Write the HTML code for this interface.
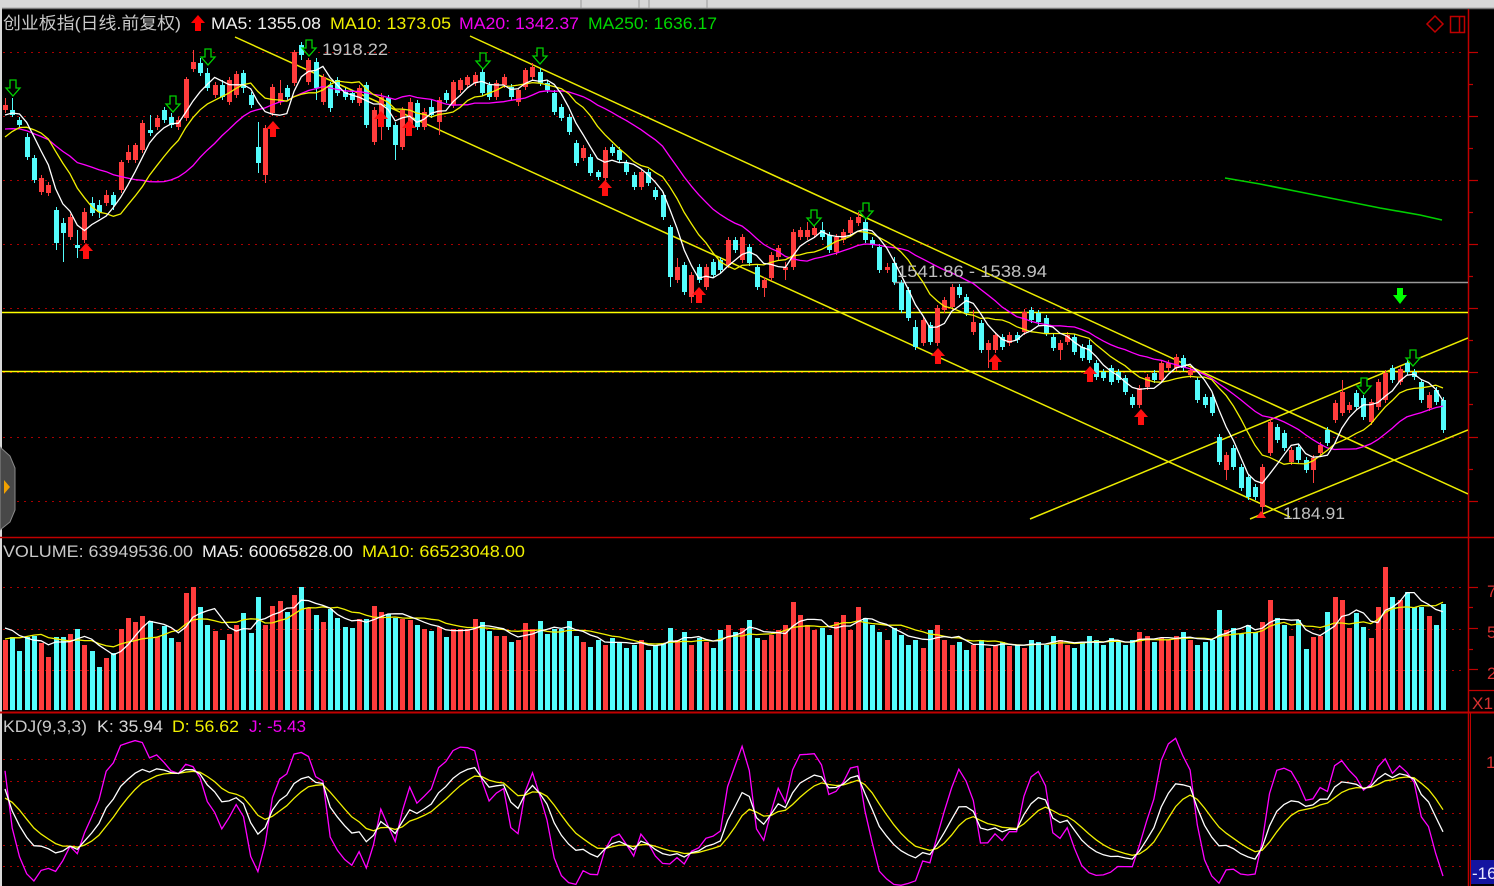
<!DOCTYPE html>
<html><head><meta charset="utf-8">
<style>
html,body{margin:0;padding:0;background:#000;width:1494px;height:886px;overflow:hidden;}
svg{display:block;}
text{font-family:"Liberation Sans","Noto Sans CJK SC",sans-serif;}
</style></head>
<body>
<svg id="svg" width="1494" height="886" viewBox="0 0 1494 886" xmlns="http://www.w3.org/2000/svg">
<defs>
<clipPath id="cp"><rect x="2" y="34" width="1466" height="503"/></clipPath>
<clipPath id="cv"><rect x="2" y="560" width="1466" height="152"/></clipPath>
<clipPath id="ck"><rect x="2" y="735" width="1466" height="151"/></clipPath>
</defs>
<rect x="0" y="0" width="1494" height="886" fill="#000"/>
<!-- top strip -->
<rect x="0" y="0" width="1494" height="8" fill="#d8d8d8"/>
<line x1="0" y1="8.5" x2="1494" y2="8.5" stroke="#7a7a7a" stroke-width="1.5"/>
<line x1="581" y1="0" x2="581" y2="8" stroke="#9a9a9a"/>
<line x1="639" y1="0" x2="639" y2="8" stroke="#9a9a9a"/>
<line x1="649" y1="0" x2="649" y2="8" stroke="#9a9a9a"/>
<line x1="707" y1="0" x2="707" y2="8" stroke="#9a9a9a"/>
<!-- left strip -->
<rect x="0" y="0" width="2" height="886" fill="#d8d8d8"/>

<!-- grid lines -->
<g stroke="#a80000" stroke-width="1" stroke-dasharray="2,5">
<line x1="3" y1="52.5" x2="1466" y2="52.5"/>
<line x1="3" y1="116.5" x2="1466" y2="116.5"/>
<line x1="3" y1="180.5" x2="1466" y2="180.5"/>
<line x1="3" y1="244.5" x2="1466" y2="244.5"/>
<line x1="3" y1="308.5" x2="1466" y2="308.5"/>
<line x1="3" y1="372.5" x2="1466" y2="372.5"/>
<line x1="3" y1="437.5" x2="1466" y2="437.5"/>
<line x1="3" y1="501.5" x2="1466" y2="501.5"/>
<line x1="3" y1="587.5" x2="1466" y2="587.5"/>
<line x1="3" y1="629.5" x2="1466" y2="629.5"/>
<line x1="3" y1="670.5" x2="1466" y2="670.5"/>
<line x1="3" y1="759.5" x2="1466" y2="759.5"/>
<line x1="3" y1="781.5" x2="1466" y2="781.5"/>
<line x1="3" y1="813.5" x2="1466" y2="813.5"/>
<line x1="3" y1="845.5" x2="1466" y2="845.5"/>
<line x1="3" y1="866.5" x2="1466" y2="866.5"/>
</g>

<!-- separators & axis -->
<line x1="0" y1="537.5" x2="1494" y2="537.5" stroke="#c00000" stroke-width="1.5"/>
<line x1="0" y1="712.5" x2="1494" y2="712.5" stroke="#c00000" stroke-width="2"/>
<line x1="1468.5" y1="9" x2="1468.5" y2="886" stroke="#c00000" stroke-width="1.5"/>
<line x1="1470.5" y1="713" x2="1470.5" y2="886" stroke="#c00000" stroke-width="1"/>
<g stroke="#c00000" stroke-width="1.2">
<line x1="1468" y1="52.5" x2="1478" y2="52.5"/>
<line x1="1468" y1="84.5" x2="1473" y2="84.5"/>
<line x1="1468" y1="116.5" x2="1478" y2="116.5"/>
<line x1="1468" y1="148.5" x2="1473" y2="148.5"/>
<line x1="1468" y1="180.5" x2="1478" y2="180.5"/>
<line x1="1468" y1="212.5" x2="1473" y2="212.5"/>
<line x1="1468" y1="244.5" x2="1478" y2="244.5"/>
<line x1="1468" y1="276.5" x2="1473" y2="276.5"/>
<line x1="1468" y1="308.5" x2="1478" y2="308.5"/>
<line x1="1468" y1="340.5" x2="1473" y2="340.5"/>
<line x1="1468" y1="372.5" x2="1478" y2="372.5"/>
<line x1="1468" y1="404.5" x2="1473" y2="404.5"/>
<line x1="1468" y1="437.5" x2="1478" y2="437.5"/>
<line x1="1468" y1="469.5" x2="1473" y2="469.5"/>
<line x1="1468" y1="501.5" x2="1478" y2="501.5"/>
<line x1="1468" y1="587.5" x2="1478" y2="587.5"/>
<line x1="1468" y1="607.5" x2="1473" y2="607.5"/>
<line x1="1468" y1="628.5" x2="1478" y2="628.5"/>
<line x1="1468" y1="649.5" x2="1473" y2="649.5"/>
<line x1="1468" y1="669.5" x2="1478" y2="669.5"/>
<line x1="1468" y1="690.5" x2="1494" y2="690.5"/>
</g>
<g fill="#d83030" font-size="17">
<text x="1487" y="597">7</text>
<text x="1487" y="638">5</text>
<text x="1487" y="679">2</text>
<text x="1472" y="709" textLength="21" lengthAdjust="spacingAndGlyphs">X1</text>
<text x="1486" y="768">1</text>
</g>
<rect x="1471" y="860" width="23" height="24" fill="#1414a0"/>
<text x="1472" y="879" fill="#e8e8ff" font-size="17">-16</text>

<!-- top right icons -->
<path d="M1435,16 L1443,24 L1435,32 L1427,24 Z" fill="none" stroke="#c00000" stroke-width="1.5"/>
<rect x="1450.5" y="16.5" width="14" height="16" fill="none" stroke="#c00000" stroke-width="1.5"/>
<line x1="1459.5" y1="16.5" x2="1459.5" y2="32.5" stroke="#c00000" stroke-width="1.5"/>

<!-- left tab -->
<polygon points="0,447 10,456 15,468 15,510 10,522 0,530" fill="#484848" stroke="#8a8a8a" stroke-width="1"/>
<polygon points="4,480 10,487 4,494" fill="#f0a000"/>

<!-- price panel static overlays -->
<g clip-path="url(#cp)">
<line x1="893" y1="282.5" x2="1468" y2="282.5" stroke="#9a9a9a" stroke-width="1.5"/>
<line x1="2" y1="312.5" x2="1468" y2="312.5" stroke="#ffff00" stroke-width="1.6"/>
<line x1="2" y1="371.5" x2="1468" y2="371.5" stroke="#ffff00" stroke-width="1.6"/>
<g stroke="#ecec00" stroke-width="1.5">
<line x1="235" y1="37" x2="1290" y2="517"/>
<line x1="470" y1="36" x2="1468" y2="494"/>
<line x1="1030" y1="519" x2="1468" y2="338"/>
<line x1="1250" y1="519" x2="1468" y2="430"/>
</g>
<polyline points="1225,178 1260,184 1300,192 1340,200 1380,208 1420,215 1442,220" fill="none" stroke="#00d000" stroke-width="1.6"/>
<g id="pricedyn"></g>
</g>
<g clip-path="url(#cv)"><g id="voldyn"></g></g>
<g clip-path="url(#ck)"><g id="kdjdyn"></g></g>
<g id="marks"></g>

<!-- labels in chart -->
<text x="322" y="55" fill="#c0c0c0" font-size="17" textLength="66" lengthAdjust="spacingAndGlyphs">1918.22</text>
<text x="897" y="277" fill="#c0c0c0" font-size="17" textLength="150" lengthAdjust="spacingAndGlyphs">1541.86 - 1538.94</text>
<text x="1283" y="519" fill="#c0c0c0" font-size="17" textLength="62" lengthAdjust="spacingAndGlyphs">1184.91</text>

<!-- headers -->
<text x="3" y="29" fill="#c8c8c8" font-size="17" textLength="178" lengthAdjust="spacingAndGlyphs">创业板指(日线.前复权)</text>
<path d="M198,15 l7,8 h-4 v8 h-6 v-8 h-4 z" fill="#ff0000"/>
<text x="211" y="29" fill="#f0f0f0" font-size="17" textLength="110" lengthAdjust="spacingAndGlyphs">MA5: 1355.08</text>
<text x="330" y="29" fill="#f0f000" font-size="17" textLength="121" lengthAdjust="spacingAndGlyphs">MA10: 1373.05</text>
<text x="459" y="29" fill="#f000f0" font-size="17" textLength="120" lengthAdjust="spacingAndGlyphs">MA20: 1342.37</text>
<text x="588" y="29" fill="#00d800" font-size="17" textLength="129" lengthAdjust="spacingAndGlyphs">MA250: 1636.17</text>

<text x="3" y="557" fill="#c8c8c8" font-size="17" textLength="190" lengthAdjust="spacingAndGlyphs">VOLUME: 63949536.00</text>
<text x="202" y="557" fill="#f0f0f0" font-size="17" textLength="151" lengthAdjust="spacingAndGlyphs">MA5: 60065828.00</text>
<text x="362" y="557" fill="#f0f000" font-size="17" textLength="163" lengthAdjust="spacingAndGlyphs">MA10: 66523048.00</text>

<text x="3" y="732" fill="#c8c8c8" font-size="17" textLength="84" lengthAdjust="spacingAndGlyphs">KDJ(9,3,3)</text>
<text x="97" y="732" fill="#d8d8d8" font-size="17" textLength="66" lengthAdjust="spacingAndGlyphs">K: 35.94</text>
<text x="172" y="732" fill="#f0f000" font-size="17" textLength="67" lengthAdjust="spacingAndGlyphs">D: 56.62</text>
<text x="249" y="732" fill="#f000f0" font-size="17" textLength="57" lengthAdjust="spacingAndGlyphs">J: -5.43</text>
</svg>
<script>
(function(){
const D=[
[110,105,98,113],[110,115,98,117],[120,125,117,128],[137,157,133,160],[158,180,155,183],
[192,178,175,195],[193,185,182,196],[210,243,207,250],[223,233,218,262],[237,217,214,240],
[245,248,230,258],[240,212,208,243],[203,213,197,216],[205,212,200,218],[203,195,190,206],
[195,205,192,210],[190,162,160,193],[160,152,145,163],[160,145,143,163],[150,123,120,153],
[130,133,115,136],[127,118,115,130],[110,120,107,123],[117,125,113,128],[127,120,117,130],
[118,79,77,121],[69,62,50,72],[63,73,58,76],[73,88,68,91],[95,85,82,98],
[85,97,80,100],[102,80,77,105],[95,74,71,98],[73,88,70,93],[95,105,92,108],
[147,163,122,173],[175,128,125,183],[113,87,84,116],[102,93,80,105],[88,97,85,100],
[83,52,50,86],[45,55,42,60],[82,60,58,85],[62,88,58,100],[102,77,74,105],
[85,108,82,112],[80,93,77,96],[92,97,88,100],[93,100,90,103],[103,88,85,106],
[85,125,82,128],[142,110,107,145],[127,97,93,140],[98,127,95,130],[125,145,122,160],
[147,110,107,150],[127,102,98,130],[103,127,100,130],[127,112,108,130],[107,115,100,118],
[122,100,97,135],[93,100,90,103],[105,82,80,108],[90,80,78,93],[85,77,75,88],
[83,75,72,86],[72,93,68,96],[85,97,82,100],[97,83,80,100],[85,77,74,88],
[87,97,84,100],[102,90,88,106],[87,70,68,90],[77,67,63,80],[72,83,68,86],
[83,90,80,93],[93,112,90,115],[107,118,104,121],[117,132,114,135],[143,163,140,166],
[158,148,145,161],[157,173,154,176],[172,177,170,180],[178,150,147,181],[147,153,144,156],
[150,160,147,163],[163,172,160,175],[175,187,172,190],[187,172,169,190],[172,183,169,186],
[190,197,187,200],[195,217,192,220],[227,277,225,287],[280,267,258,283],[265,292,262,295],
[297,275,272,303],[267,280,264,283],[287,267,264,290],[262,275,259,278],[260,270,257,273],
[265,240,237,268],[240,250,237,253],[260,237,234,263],[247,263,244,266],[267,287,264,290],
[288,280,277,297],[278,255,252,281],[257,248,245,260],[270,267,262,280],[267,232,229,270],
[237,230,227,240],[237,230,222,240],[235,228,225,238],[230,237,222,240],[235,250,232,253],
[252,237,234,255],[240,232,229,243],[233,220,217,236],[223,217,212,226],[222,240,215,243],
[240,245,237,248],[247,270,244,273],[270,267,263,273],[263,282,257,285],[283,310,280,313],
[290,318,287,321],[327,347,320,350],[343,320,317,346],[325,342,322,345],[343,308,305,346],
[310,300,297,313],[307,287,284,310],[287,295,284,298],[297,313,294,316],[332,322,310,335],
[323,350,320,353],[350,343,340,368],[350,335,332,353],[337,347,334,350],[343,335,332,346],
[335,340,332,343],[332,312,309,335],[310,320,307,323],[313,322,310,325],[318,333,315,336],
[337,348,334,351],[350,343,340,360],[342,335,332,345],[337,352,334,355],[347,358,344,361],
[345,360,340,363],[363,377,360,380],[372,378,369,381],[368,382,365,385],[372,380,369,383],
[378,392,375,395],[397,405,394,408],[405,388,385,408],[387,377,374,390],[373,380,370,383],
[380,363,360,383],[368,363,360,371],[368,357,354,371],[358,368,355,371],[375,370,367,378],
[380,400,377,403],[397,405,394,408],[397,413,394,416],[437,462,434,465],[470,455,452,480],
[448,467,445,470],[467,488,464,491],[477,497,474,500],[487,497,484,500],[507,467,464,516],
[453,422,419,456],[427,440,424,443],[433,448,430,451],[462,450,447,465],[447,460,444,463],
[460,470,457,473],[470,458,455,483],[453,445,442,456],[430,443,427,446],[420,403,400,423],
[413,392,380,416],[410,405,402,413],[393,407,390,410],[398,417,395,420],[422,402,399,425],
[407,382,379,410],[400,373,370,403],[368,380,365,383],[382,369,366,385],[363,372,360,375],
[372,377,369,380],[382,400,379,403],[408,395,392,411],[390,402,387,405],[400,430,397,433]
];
const V=[640,637,651,637,636,643,657,637,637,634,
629,645,651,667,658,653,629,618,622,616,
621,637,626,638,642,593,587,607,625,631,
640,634,625,613,633,597,625,606,601,612,
595,587,608,615,622,609,618,627,628,619,
619,606,612,614,618,619,620,625,629,631,
627,637,629,629,629,619,622,631,636,636,
642,640,623,629,621,634,629,629,621,636,
642,647,
640,645,638,642,648,645,640,650,645,643,
628,640,632,645,638,642,648,630,
625,632,628,620,638,640,635,630,625,602,
615,625,630,628,635,622,615,630,607,618,
625,632,640,628,635,645,640,648,630,625,
640,645,642,650,645,640,648,645,642,646,
645,648,640,642,645,636,640,645,648,642,
636,640,645,638,642,645,640,632,636,642,
638,640,636,632,640,645,642,640,610,630,
628,634,625,632,622,600,618,625,636,620,
649,637,636,612,597,600,628,613,627,638,
607,567,597,600,592,607,607,616,625,604];
const N=D.length;
const X=i=>5+7.226*i;
const RED='#ff3c3c',CY='#54fcfc';
let ps='',vs='';
for(let i=0;i<N;i++){
  const o=D[i][0],c=D[i][1],h=D[i][2],l=D[i][3];
  const col=(c<o)?RED:CY;
  const x=Math.round(X(i))+0.5;
  ps+='<line x1="'+x+'" y1="'+h+'" x2="'+x+'" y2="'+l+'" stroke="'+col+'" stroke-width="1"/>';
  const t=Math.min(o,c),b=Math.max(o,c);
  ps+='<rect x="'+(x-2.5)+'" y="'+t+'" width="5" height="'+Math.max(1,b-t)+'" fill="'+col+'"/>';
  const vt=V[i]!==undefined?V[i]:630;
  vs+='<rect x="'+(x-2.5)+'" y="'+vt+'" width="5" height="'+(710-vt)+'" fill="'+col+'"/>';
}
// price MAs
const pre=[121,121,121,121,121,121,121,121,121,121,170,165,160,155,145,125,120,115,110];
const C=pre.concat(D.map(d=>d[1]));
function ma(arr,n,off,f){
  const pts=[];
  for(let i=0;i<N;i++){let s=0;for(let k=0;k<n;k++)s+=arr[i+off-k];pts.push(X(i).toFixed(1)+','+f(s/n).toFixed(1));}
  return pts.join(' ');
}
const id=v=>v;
ps+='<polyline points="'+ma(C,20,19,id)+'" fill="none" stroke="#ff00ff" stroke-width="1.3"/>';
ps+='<polyline points="'+ma(C,10,19,id)+'" fill="none" stroke="#f0f000" stroke-width="1.3"/>';
ps+='<polyline points="'+ma(C,5,19,id)+'" fill="none" stroke="#ffffff" stroke-width="1.3"/>';
document.getElementById('pricedyn').innerHTML=ps;
// volume MAs
const H=V.map(v=>710-v);
const AV=[60,60,60,60,60,85,85,85,85].concat(H);
const vy=v=>710-v;
vs+='<polyline points="'+ma(AV,10,9,vy)+'" fill="none" stroke="#f0f000" stroke-width="1.3"/>';
vs+='<polyline points="'+ma(AV,5,9,vy)+'" fill="none" stroke="#ffffff" stroke-width="1.3"/>';
document.getElementById('voldyn').innerHTML=vs;
// KDJ
let K=72,Dd=63.5;const kp=[],dp=[],jp=[];
const ky=v=>(866-v*1.07).toFixed(1);
for(let i=0;i<N;i++){
  if(i>0){
    let hi=1e9,lo=-1e9;
    for(let k=Math.max(0,i-8);k<=i;k++){hi=Math.min(hi,D[k][2]);lo=Math.max(lo,D[k][3]);}
    const rsv=(lo===hi)?50:(lo-D[i][1])/(lo-hi)*100;
    K=(2*K+rsv)/3;Dd=(2*Dd+K)/3;
  }
  const J=3*K-2*Dd;
  const x=X(i).toFixed(1);
  kp.push(x+','+ky(K));dp.push(x+','+ky(Dd));jp.push(x+','+ky(J));
}
let ks='';
ks+='<polyline points="'+jp.join(' ')+'" fill="none" stroke="#ff00ff" stroke-width="1.3"/>';
ks+='<polyline points="'+dp.join(' ')+'" fill="none" stroke="#f0f000" stroke-width="1.3"/>';
ks+='<polyline points="'+kp.join(' ')+'" fill="none" stroke="#ffffff" stroke-width="1.3"/>';
document.getElementById('kdjdyn').innerHTML=ks;
// markers
let ms='';
const GA=[[13,80],[173,96],[208,49],[309,40],[483,53],[540,48],[814,210],[866,203],[1364,378],[1413,350]];
GA.forEach(a=>{const cx=a[0],y=a[1];ms+='<path d="M'+(cx-3)+','+y+' h6 v8 h4 l-7,8 l-7,-8 h4 z" fill="#000" stroke="#00d000" stroke-width="1.3"/>';});
const RA=[[86,243],[273,121],[381,111],[409,120],[605,180],[699,287],[938,348],[995,354],[1090,366],[1141,409]];
RA.forEach(a=>{const cx=a[0],y=a[1];ms+='<path d="M'+cx+','+y+' l7,8 h-4 v8 h-6 v-8 h-4 z" fill="#ff1010"/>';});
ms+='<path d="M1397,288 h6 v7 h4 l-7,9 l-7,-9 h4 z" fill="#00ff00"/>';
ms+='<path d="M1261,511 l5,7 h-10 z" fill="#ff2020"/>';
document.getElementById('marks').innerHTML=ms;
})();
</script>
</body></html>
